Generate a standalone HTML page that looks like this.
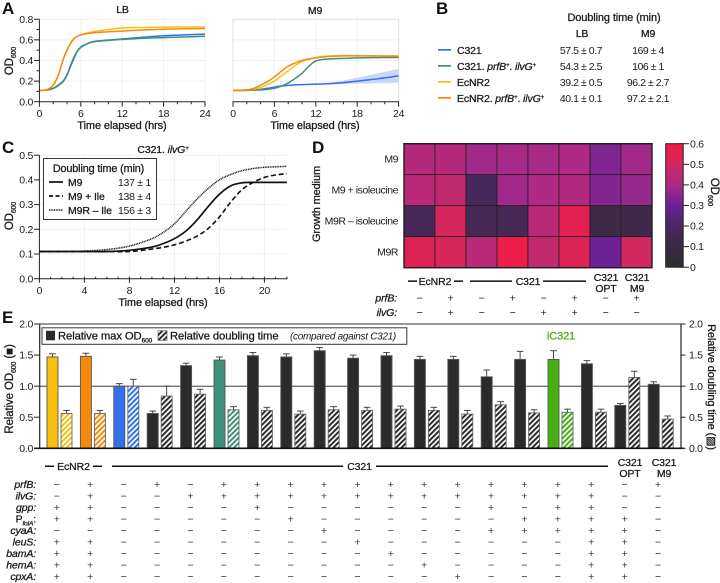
<!DOCTYPE html>
<html lang="en">
<head>
<meta charset="utf-8">
<title>C321 growth characterization figure</title>
<style>
html,body{margin:0;padding:0;background:#fff;}
svg{display:block;font-family:"Liberation Sans",sans-serif;fill:#1a1a1a;}
text{font-size:10.5px;letter-spacing:-.3px;}
.h{font-size:17px;font-weight:700;fill:#111;}
.b{font-weight:400;letter-spacing:-.12px;stroke:#1a1a1a;stroke-width:.28px;}
.i{font-style:italic;}
</style>
</head>
<body>
<svg id="fig" xmlns="http://www.w3.org/2000/svg" width="720" height="583" viewBox="0 0 720 583">
<defs>
<pattern id="hk" patternUnits="userSpaceOnUse" width="3.7" height="3.7" patternTransform="rotate(45)"><rect width="3.7" height="3.7" fill="#fff"/><rect width="2" height="3.7" fill="#2b2b2b"/></pattern>
<pattern id="hy" patternUnits="userSpaceOnUse" width="3.7" height="3.7" patternTransform="rotate(45)"><rect width="3.7" height="3.7" fill="#fff"/><rect width="2" height="3.7" fill="#fbc00f"/></pattern>
<pattern id="ho" patternUnits="userSpaceOnUse" width="3.7" height="3.7" patternTransform="rotate(45)"><rect width="3.7" height="3.7" fill="#fff"/><rect width="2" height="3.7" fill="#f58a0b"/></pattern>
<pattern id="hb" patternUnits="userSpaceOnUse" width="3.7" height="3.7" patternTransform="rotate(45)"><rect width="3.7" height="3.7" fill="#fff"/><rect width="2" height="3.7" fill="#3070e8"/></pattern>
<pattern id="hg" patternUnits="userSpaceOnUse" width="3.7" height="3.7" patternTransform="rotate(45)"><rect width="3.7" height="3.7" fill="#fff"/><rect width="2" height="3.7" fill="#3c917a"/></pattern>
<pattern id="hl" patternUnits="userSpaceOnUse" width="3.7" height="3.7" patternTransform="rotate(45)"><rect width="3.7" height="3.7" fill="#fff"/><rect width="2" height="3.7" fill="#44b012"/></pattern>
<linearGradient id="cbar" x1="0" y1="1" x2="0" y2="0">
<stop offset="0" stop-color="#2d2d2d"/><stop offset=".167" stop-color="#3a2a42"/><stop offset=".333" stop-color="#4c2660"/><stop offset=".5" stop-color="#6c2295"/><stop offset=".667" stop-color="#aa2a88"/><stop offset=".833" stop-color="#d0285f"/><stop offset="1" stop-color="#f01c48"/>
</linearGradient>
</defs>

<!-- Panel letters -->
<text class="h" x="2" y="14">A</text>
<text class="h" x="436" y="14">B</text>
<text class="h" x="2" y="153">C</text>
<text class="h" x="312" y="153">D</text>
<text class="h" x="2" y="323">E</text>

<!-- Panel A static text -->
<text x="122.5" y="13" text-anchor="middle" class="b">LB</text>
<text x="315" y="14" text-anchor="middle" class="b">M9</text>
<text x="122" y="129" text-anchor="middle" class="b" style="font-size:11px">Time elapsed (hrs)</text>
<text x="315" y="129" text-anchor="middle" class="b" style="font-size:11px">Time elapsed (hrs)</text>
<text transform="translate(13,61) rotate(-90)" text-anchor="middle" class="b" style="font-size:11.5px">OD<tspan dy="3" style="font-size:7px">600</tspan></text>

<!-- Panel B table -->
<g>
<text x="614" y="21" text-anchor="middle" class="b" style="font-size:11px">Doubling time (min)</text>
<text x="582" y="37" text-anchor="middle" class="b">LB</text>
<text x="648" y="37" text-anchor="middle" class="b">M9</text>
<rect x="438" y="49" width="13" height="1.7" fill="#3070e8"/>
<rect x="438" y="65" width="13" height="1.7" fill="#3c917a"/>
<rect x="438" y="81" width="13" height="1.7" fill="#fbc00f"/>
<rect x="438" y="97" width="13" height="1.7" fill="#f58a0b"/>
<text x="457" y="54" class="b">C321</text>
<text x="457" y="70" class="b">C321.<tspan class="i"> prfB</tspan><tspan class="i" dy="-3" style="font-size:6px">+</tspan><tspan dy="3">.</tspan><tspan class="i"> ilvG</tspan><tspan class="i" dy="-3" style="font-size:6px">+</tspan></text>
<text x="457" y="86" class="b">EcNR2</text>
<text x="457" y="102" class="b">EcNR2.<tspan class="i"> prfB</tspan><tspan class="i" dy="-3" style="font-size:6px">+</tspan><tspan dy="3">.</tspan><tspan class="i"> ilvG</tspan><tspan class="i" dy="-3" style="font-size:6px">+</tspan></text>
<g text-anchor="middle" style="letter-spacing:-.45px">
<text x="581" y="54" style="letter-spacing:-.45px">57.5 ± 0.7</text><text x="648" y="54" style="letter-spacing:-.45px">169 ± 4</text>
<text x="581" y="70" style="letter-spacing:-.45px">54.3 ± 2.5</text><text x="648" y="70" style="letter-spacing:-.45px">106 ± 1</text>
<text x="581" y="86" style="letter-spacing:-.45px">39.2 ± 0.5</text><text x="648" y="86" style="letter-spacing:-.45px">96.2 ± 2.7</text>
<text x="581" y="102" style="letter-spacing:-.45px">40.1 ± 0.1</text><text x="648" y="102" style="letter-spacing:-.45px">97.2 ± 2.1</text>
</g>
</g>

<!-- Panel C static text -->
<text x="163" y="153" text-anchor="middle" class="b">C321.<tspan class="i"> ilvG</tspan><tspan class="i" dy="-3" style="font-size:6px">+</tspan></text>
<text x="163" y="306" text-anchor="middle" class="b" style="font-size:11px">Time elapsed (hrs)</text>
<text transform="translate(13,216) rotate(-90)" text-anchor="middle" class="b" style="font-size:11.5px">OD<tspan dy="3" style="font-size:7px">600</tspan></text>
<g id="chartC"></g>
<g>
<rect x="43.5" y="158.5" width="113" height="61" fill="#fff" stroke="#333" stroke-width="1"/>
<text x="98.5" y="172" text-anchor="middle" class="b" style="font-size:10.8px">Doubling time (min)</text>
<line x1="49" x2="63" y1="182" y2="182" stroke="#111" stroke-width="1.7"/>
<line x1="49" x2="63" y1="196" y2="196" stroke="#111" stroke-width="1.7" stroke-dasharray="4,2.5"/>
<line x1="49" x2="63" y1="210" y2="210" stroke="#111" stroke-width="1.5" stroke-dasharray="1,.7"/>
<text x="68" y="186" class="b">M9</text>
<text x="68" y="200" class="b">M9 + Ile</text>
<text x="68" y="214" class="b">M9R – Ile</text>
<text x="118" y="186">137 ± 1</text>
<text x="118" y="200">138 ± 4</text>
<text x="118" y="214">156 ± 3</text>
</g>

<!-- Panel D static text -->
<text transform="translate(320,204) rotate(-90)" text-anchor="middle" class="b" style="font-size:11px">Growth medium</text>
<text transform="translate(711,192) rotate(90)" text-anchor="middle" class="b" style="font-size:11.5px">OD<tspan dy="3" style="font-size:7px">600</tspan></text>
<g id="heatmap"></g>
<rect x="665.7" y="143.7" width="17.5" height="123.5" fill="url(#cbar)" stroke="#222" stroke-width="1"/>
<g text-anchor="middle">
<rect x="408" y="280.4" width="9" height="1.5" fill="#111"/>
<text x="435" y="285.2" class="b">EcNR2</text>
<rect x="454" y="280.4" width="9" height="1.5" fill="#111"/>
<rect x="470" y="280.4" width="42" height="1.5" fill="#111"/>
<text x="528" y="285.2" class="b">C321</text>
<rect x="543" y="280.4" width="43" height="1.5" fill="#111"/>
<text x="606" y="281" class="b">C321</text><text x="606" y="292" class="b">OPT</text>
<text x="637" y="281" class="b">C321</text><text x="637" y="292" class="b">M9</text>
</g>

<!-- Panel E static text -->
<text transform="translate(13,389) rotate(-90)" text-anchor="middle" style="font-size:11.5px" class="b">Relative OD<tspan dy="3" style="font-size:7px">600</tspan><tspan dy="-3"> (■)</tspan></text>
<text transform="translate(708,387) rotate(90)" text-anchor="middle" style="font-size:11px" class="b">Relative doubling time (▨)</text>
<g id="chartE"></g>
<g>
<rect x="42" y="327.8" width="364.8" height="16.5" fill="#fff" stroke="#333" stroke-width="1"/>
<rect x="46" y="330.8" width="9" height="9.5" fill="#2b2b2b"/>
<text x="58" y="339.5" class="b" style="font-size:11.3px">Relative max OD<tspan dy="3" style="font-size:6.5px">600</tspan></text>
<rect x="158" y="330.8" width="9" height="9.5" fill="url(#hk)" stroke="#444" stroke-width=".6"/>
<text x="170" y="339.5" class="b" style="font-size:11.3px">Relative doubling time</text>
<text x="290" y="339.5" class="i" style="font-size:10px">(compared against C321)</text>
</g>
<text x="561" y="339.5" text-anchor="middle" class="b" style="font-size:11px;fill:#44b012;stroke:#44b012">iC321</text>
<g>
<rect x="45" y="465.5" width="9" height="1.5" fill="#111"/>
<text x="73.5" y="470" text-anchor="middle" class="b">EcNR2</text>
<rect x="93" y="465.5" width="9" height="1.5" fill="#111"/>
<rect x="112" y="465.5" width="231" height="1.5" fill="#111"/>
<text x="359.5" y="470" text-anchor="middle" class="b">C321</text>
<rect x="376" y="465.5" width="232" height="1.5" fill="#111"/>
<text x="630" y="466" text-anchor="middle" class="b">C321</text><text x="630" y="477" text-anchor="middle" class="b">OPT</text>
<text x="664" y="466" text-anchor="middle" class="b">C321</text><text x="664" y="477" text-anchor="middle" class="b">M9</text>
</g>
<g id="tableE"></g>
<g id="tableD"></g>

<g id="chartA"></g>

<script>
/* ---------- Panel A data: OD600 ---------- */
const lbHours = [0,1,1.5,2,2.5,3,3.5,4,4.5,5,5.5,6,7,8,10,12,15,18,21,24];
const lbC321 = [.11,.112,.118,.13,.15,.175,.205,.26,.34,.42,.49,.53,.565,.585,.598,.608,.625,.64,.648,.655];
const lbC321Plus = [.11,.112,.118,.128,.145,.17,.2,.26,.35,.43,.49,.525,.565,.583,.595,.604,.615,.622,.628,.635];
const lbEcNR2 = [.11,.115,.13,.16,.22,.31,.42,.5,.565,.61,.635,.65,.668,.682,.7,.715,.72,.723,.725,.725];
const lbEcNR2Plus = [.11,.115,.13,.16,.22,.31,.42,.5,.565,.61,.635,.648,.662,.67,.678,.685,.695,.703,.707,.71];
const m9Hours = [0,2,3,4,5,6,7,8,9,10,11,12,13,14,16,18,21,24];
const m9C321 = [.11,.11,.113,.12,.13,.142,.152,.158,.163,.166,.168,.17,.172,.175,.185,.2,.222,.25];
const m9C321Low = [.11,.11,.113,.12,.13,.142,.152,.158,.163,.166,.168,.17,.17,.168,.172,.175,.178,.185];
const m9C321High = [.11,.11,.113,.12,.13,.142,.152,.158,.163,.166,.168,.172,.176,.185,.205,.235,.275,.32];
const m9C321Plus = [.11,.11,.112,.115,.12,.13,.15,.182,.225,.275,.345,.395,.41,.415,.42,.425,.428,.43];
const m9EcNR2 = [.11,.113,.122,.138,.165,.2,.25,.3,.35,.39,.41,.428,.438,.443,.447,.447,.445,.445];
const m9EcNR2Plus = [.11,.115,.13,.16,.195,.24,.295,.345,.375,.4,.415,.425,.433,.44,.444,.445,.443,.44];
const odTicks = [0,.2,.4,.6,.8];
const hourTicksA = [0,6,12,18,24];

/* ---------- Panel C data ---------- */
const cHours = [0,2,4,6,8,10,11,12,13,14,15,16,17,18,19,20,21,22];
const cM9 = [.11,.11,.11,.11,.115,.128,.142,.162,.192,.237,.292,.342,.376,.388,.39,.39,.39,.39];
const cM9Ile = [.11,.11,.11,.11,.11,.12,.127,.137,.152,.172,.203,.25,.31,.36,.39,.41,.42,.425];
const cM9R = [.11,.11,.112,.118,.132,.162,.187,.222,.272,.322,.365,.4,.422,.437,.446,.451,.453,.455];
const cYTicks = [0,.1,.2,.3,.4,.5];
const cYLabels = ['0.0','0.1','0.2','0.3','0.4','0.5'];
const cXTicks = [0,4,8,12,16,20];

/* ---------- Panel D data ---------- */
const mediaNames = ['M9','M9 + isoleucine','M9R – isoleucine','M9R'];
const heatM9 = [.43,.43,.385,.395,.395,.41,.33,.385];
const heatIle = [.44,.46,.18,.385,.41,.42,.34,.37];
const heatIleMinus = [.17,.51,.16,.16,.44,.56,.12,.13];
const heatM9R = [.54,.52,.44,.59,.46,.54,.30,.50];
const colorTicks = [0,.1,.2,.3,.4,.5,.6];
const prfBD = ['−','+','−','+','−','+','−','+'];
const ilvGD = ['−','+','−','−','+','+','−','−'];

/* ---------- Panel E data ---------- */
const maxOD = [1.47,1.48,1.00,.56,1.33,1.42,1.49,1.47,1.57,1.45,1.49,1.43,1.43,1.15,1.43,1.43,1.36,.69,1.03];
const maxODErr = [.05,.05,.04,.04,.04,.05,.05,.05,.05,.05,.05,.05,.05,.11,.13,.14,.05,.03,.04];
const doubling = [.56,.56,1.00,.84,.87,.62,.61,.55,.62,.61,.63,.61,.55,.70,.57,.58,.58,1.14,.47];
const doublingErr = [.05,.05,.11,.16,.08,.05,.05,.05,.05,.05,.05,.05,.06,.05,.05,.05,.05,.10,.05];
const barKinds = ['y','o','b','k','k','g','k','k','k','k','k','k','k','k','k','l','k','k','k'];
const eTicks = [0,.5,1,1.5,2];
const eLabels = ['0.0','0.5','1.0','1.5','2.0'];
const geneRows = ['prfB','ilvG','gpp','PfolA','cyaA','leuS','bamA','hemA','cpxA'];
const prfBE = '-+-+-++++++++++++-+';
const ilvGE = '-+--+++++++++++++--';
const gppE  = '++----+------+-++--';
const pfolE = '++-----+------++++-';
const cyaAE = '--------+----+++++-';
const leuSE = '++-------+------++-';
const bamAE = '++--------+-----++-';
const hemAE = '++---------+----++-';
const cpxAE = '++----------+---++-';
const geneMarks = [prfBE,ilvGE,gppE,pfolE,cyaAE,leuSE,bamAE,hemAE,cpxAE];

/* ---------- helpers ---------- */
const NS = 'http://www.w3.org/2000/svg';
function mk(parent, tag, attrs, name, txt) {
  const el = document.createElementNS(NS, tag);
  for (const k in attrs) el.setAttribute(k, attrs[k]);
  
  
  if (txt !== undefined) el.textContent = txt;
  parent.appendChild(el);
  return el;
}
function smooth(xs, ys) {
  let d = 'M' + xs[0].toFixed(2) + ' ' + ys[0].toFixed(2);
  for (let i = 0; i < xs.length - 1; i++) {
    const p0 = Math.max(i - 1, 0), p3 = Math.min(i + 2, xs.length - 1);
    const h = xs[i + 1] - xs[i];
    const m1 = (ys[i + 1] - ys[p0]) / (xs[i + 1] - xs[p0]);
    const m2 = (ys[p3] - ys[i]) / (xs[p3] - xs[i]);
    d += 'C' + (xs[i] + h / 3).toFixed(2) + ' ' + (ys[i] + m1 * h / 3).toFixed(2) + ' ' +
      (xs[i + 1] - h / 3).toFixed(2) + ' ' + (ys[i + 1] - m2 * h / 3).toFixed(2) + ' ' +
      xs[i + 1].toFixed(2) + ' ' + ys[i + 1].toFixed(2);
  }
  return d;
}
function line(g, x1, y1, x2, y2, stroke, w, name) {
  return mk(g, 'line', {x1: x1, y1: y1, x2: x2, y2: y2, stroke: stroke, 'stroke-width': w}, name);
}

/* ---------- Panel A ---------- */
const chartA = document.getElementById('chartA');
const yA = v => 101.7 - v * 103.1;
function growthPanel(x0, series, hours, band, prefix, showY) {
  const xA = t => x0 + t * 6.9;
  const g = mk(chartA, 'g', {}, prefix + '-plot');
  odTicks.forEach(v => { if (v > 0) line(g, x0, yA(v), x0 + 165.6, yA(v), '#efefef', 1, prefix + '-gridline-y'); });
  hourTicksA.forEach(t => { if (t > 0) line(g, xA(t), yA(0), xA(t), yA(.8), '#efefef', 1, prefix + '-gridline-x'); });
  if (!showY) {
    line(g, x0, yA(.8), x0 + 165.6, yA(.8), '#e2e2e2', 1, prefix + '-top-border');
    line(g, x0, yA(0), x0, yA(.8), '#e2e2e2', 1, prefix + '-left-border');
    line(g, x0 + 165.6, yA(0), x0 + 165.6, yA(.8), '#e2e2e2', 1, prefix + '-right-border');
  }
  if (band) {
    const xs = hours.map(xA);
    let d = smooth(xs, band[1].map(yA));
    const rx = xs.slice().reverse();
    const ry = band[0].map(yA).reverse();
    d += 'L' + smooth(rx, ry).slice(1) + 'Z';
    mk(g, 'path', {d: d, fill: '#c9d8f8', stroke: 'none'}, prefix + '-c321-error-band');
  }
  series.forEach(s => {
    mk(g, 'path', {d: smooth(hours.map(xA), s.v.map(yA)), fill: 'none', stroke: s.c, 'stroke-width': 1.5}, s.n);
  });
  line(g, x0 - .5, yA(0), x0 + 166, yA(0), '#222', 1, prefix + '-x-axis');
  for (let t = 0; t <= 24; t += 2) {
    const major = t % 6 === 0;
    line(g, xA(t), yA(0), xA(t), yA(0) + (major ? 5 : 2.5), '#222', 1, prefix + '-x-tick');
    if (major) mk(g, 'text', {x: xA(t), y: 117, 'text-anchor': 'middle'}, prefix + '-x-tick-label', String(t));
  }
  if (showY) {
    line(g, x0, yA(0), x0, yA(.8), '#222', 1, prefix + '-y-axis');
    for (let i = 0; i <= 8; i++) {
      const v = i / 10;
      const major = i % 2 === 0;
      line(g, x0 - (major ? 5.5 : 3), yA(v), x0, yA(v), '#222', 1, prefix + '-y-tick');
    }
    odTicks.forEach(v => mk(g, 'text', {x: 33, y: yA(v) + 3.6, 'text-anchor': 'end'}, prefix + '-y-tick-label', v.toFixed(1)));
  }
}
growthPanel(39.4, [
  {v: lbC321, c: '#3070e8', n: 'lb-line-c321'},
  {v: lbC321Plus, c: '#3c917a', n: 'lb-line-c321-prfb-ilvg'},
  {v: lbEcNR2, c: '#fbc00f', n: 'lb-line-ecnr2'},
  {v: lbEcNR2Plus, c: '#f58a0b', n: 'lb-line-ecnr2-prfb-ilvg'}
], lbHours, null, 'lb', true);
growthPanel(233, [
  {v: m9C321, c: '#3070e8', n: 'm9-line-c321'},
  {v: m9C321Plus, c: '#3c917a', n: 'm9-line-c321-prfb-ilvg'},
  {v: m9EcNR2, c: '#fbc00f', n: 'm9-line-ecnr2'},
  {v: m9EcNR2Plus, c: '#f58a0b', n: 'm9-line-ecnr2-prfb-ilvg'}
], m9Hours, [m9C321Low, m9C321High], 'm9', false);

/* ---------- Panel C ---------- */
const chartC = document.getElementById('chartC');
const xC = t => 39.4 + t * 11.25;
const yC = v => 278.7 - v * 247;
cYTicks.forEach(v => { if (v > 0) line(chartC, 39.4, yC(v), 287, yC(v), '#efefef', 1, 'panel-c-gridline-y'); });
cXTicks.forEach(t => { if (t > 0) line(chartC, xC(t), yC(0), xC(t), yC(.5), '#efefef', 1, 'panel-c-gridline-x'); });
line(chartC, 39.4, yC(0), 39.4, yC(.5), '#222', 1, 'panel-c-y-axis');
line(chartC, 39, yC(0), 287.5, yC(0), '#222', 1, 'panel-c-x-axis');
cYTicks.forEach((v, i) => {
  line(chartC, 34, yC(v), 39.4, yC(v), '#222', 1, 'panel-c-y-tick');
  mk(chartC, 'text', {x: 33, y: yC(v) + 3.6, 'text-anchor': 'end'}, 'panel-c-y-tick-label', cYLabels[i]);
});
for (let t = 0; t <= 22; t++) {
  const major = t % 4 === 0;
  line(chartC, xC(t), yC(0) + (major ? 4 : 0), xC(t), yC(0) - 2, '#222', 1, 'panel-c-x-tick');
}
cXTicks.forEach(t => mk(chartC, 'text', {x: xC(t), y: 294, 'text-anchor': 'middle'}, 'panel-c-x-tick-label', String(t)));
mk(chartC, 'path', {d: smooth(cHours.map(xC), cM9R.map(yC)), fill: 'none', stroke: '#111', 'stroke-width': 1.5, 'stroke-dasharray': '1,.7'}, 'line-m9r-minus-ile');
mk(chartC, 'path', {d: smooth(cHours.map(xC), cM9Ile.map(yC)), fill: 'none', stroke: '#111', 'stroke-width': 1.6, 'stroke-dasharray': '5,2.8'}, 'line-m9-plus-ile');
mk(chartC, 'path', {d: smooth(cHours.map(xC), cM9.map(yC)), fill: 'none', stroke: '#111', 'stroke-width': 1.7}, 'line-m9');

/* ---------- Panel D ---------- */
const heat = document.getElementById('heatmap');
const heatRows = [heatM9, heatIle, heatIleMinus, heatM9R];
const colorStops = [[45,45,45],[58,42,66],[76,38,96],[108,34,149],[170,42,136],[208,40,95],[240,28,72]];
function od2color(v) {
  const p = Math.max(0, Math.min(.5999, v)) / .1;
  const i = Math.floor(p), f = p - i;
  const c = colorStops[i].map((a, k) => Math.round(a + (colorStops[i + 1][k] - a) * f));
  return 'rgb(' + c.join(',') + ')';
}
const xD = c => 404 + c * 31;
const yD = r => 143.7 + r * 31;
heatRows.forEach((row, r) => {
  row.forEach((v, c) => {
    mk(heat, 'rect', {x: xD(c), y: yD(r), width: 31, height: 31, fill: od2color(v), stroke: '#1c1c1c', 'stroke-width': .7}, 'heatmap-cell');
  });
  mk(heat, 'text', {x: 398, y: yD(r) + 19, 'text-anchor': 'end', style: 'letter-spacing:-.45px'}, 'heatmap-row-label', mediaNames[r]);
});
mk(heat, 'rect', {x: 404, y: 143.7, width: 248, height: 124, fill: 'none', stroke: '#1c1c1c', 'stroke-width': 1.4}, 'heatmap-border');
const yBar = v => 267.2 - v * 205.8;
colorTicks.forEach(v => {
  line(heat, 679, yBar(v), 689, yBar(v), '#222', 1, 'colorbar-tick');
  mk(heat, 'text', {x: 690, y: yBar(v) + 3.6}, 'colorbar-tick-label', v === 0 ? '0' : v.toFixed(1));
});
const tableD = document.getElementById('tableD');
const dLabels = ['prfB:', 'ilvG:'];
[prfBD, ilvGD].forEach((row, r) => {
  const y = 301.5 + r * 14.7;
  mk(tableD, 'text', {x: 397, y: y, 'text-anchor': 'end', 'class': 'b i'}, 'panel-d-gene-label', dLabels[r]);
  row.forEach((s, c) => mk(tableD, 'text', {x: xD(c) + 15.5, y: y, 'text-anchor': 'middle'}, 'panel-d-gene-mark', s));
});

/* ---------- Panel E ---------- */
const chartE = document.getElementById('chartE');
const yE = v => 448.3 - v * 62.15;
const xE = i => 47 + i * 33.4;
const fills = {y: '#fbc00f', o: '#f58a0b', b: '#3070e8', k: '#2b2b2b', g: '#3c917a', l: '#44b012'};
const hatch = {y: 'url(#hy)', o: 'url(#ho)', b: 'url(#hb)', k: 'url(#hk)', g: 'url(#hg)', l: 'url(#hl)'};
line(chartE, 39.5, yE(2), 681, yE(2), '#333', 1.1, 'panel-e-top-border');
line(chartE, 39.7, yE(0), 39.7, yE(2), '#222', 1.2, 'panel-e-left-axis');
line(chartE, 681, yE(0), 681, yE(2), '#222', 1.2, 'panel-e-right-axis');
line(chartE, 39.7, yE(1), 681, yE(1), '#222', .9, 'reference-line-one');
function bar(i, off, val, err, fill, edge, name) {
  const x = xE(i) + off;
  const g = mk(chartE, 'g', {}, name + '-group');
  line(g, x + 5.5, yE(val), x + 5.5, yE(val + err), '#333', .9, name + '-error-bar');
  line(g, x + 2.2, yE(val + err), x + 8.8, yE(val + err), '#333', .9, name + '-error-cap');
  mk(g, 'rect', {x: x, y: yE(val), width: 11, height: yE(0) - yE(val), fill: fill, stroke: edge, 'stroke-width': .9}, name);
}
maxOD.forEach((v, i) => bar(i, 0, v, maxODErr[i], fills[barKinds[i]], '#555', 'bar-max-od'));
doubling.forEach((v, i) => bar(i, 14, v, doublingErr[i], hatch[barKinds[i]], '#666', 'bar-doubling-time'));
line(chartE, 34, yE(0), 684, yE(0), '#111', 1.6, 'panel-e-x-axis');
eTicks.forEach((v, i) => {
  line(chartE, 34, yE(v), 39.7, yE(v), '#222', 1, 'panel-e-left-tick');
  mk(chartE, 'text', {x: 33, y: yE(v) + 3.6, 'text-anchor': 'end'}, 'panel-e-left-tick-label', eLabels[i]);
  line(chartE, 681, yE(v), 685.5, yE(v), '#222', 1, 'panel-e-right-tick');
  mk(chartE, 'text', {x: 689, y: yE(v) + 3.6}, 'panel-e-right-tick-label', eLabels[i]);
});
const tableE = document.getElementById('tableE');
const xTable = i => 56.7 + i * 33.4;
const yTable = r => 488 + r * 11.5;
geneRows.forEach((gene, r) => {
  if (gene === 'PfolA') {
    const t = mk(tableE, 'text', {x: 36, y: yTable(r), 'text-anchor': 'end', 'class': 'b'}, 'panel-e-gene-label', 'P');
    mk(t, 'tspan', {dy: 3, 'class': 'i', style: 'font-size:6.5px'}, 'gene-label-subscript', 'folA');
    mk(t, 'tspan', {dy: -3}, 'gene-label-colon', ':');
  } else {
    mk(tableE, 'text', {x: 36, y: yTable(r), 'text-anchor': 'end', 'class': 'b i'}, 'panel-e-gene-label', gene + ':');
  }
  geneMarks[r].split('').forEach((s, i) => {
    mk(tableE, 'text', {x: xTable(i), y: yTable(r), 'text-anchor': 'middle', fill: '#333'}, 'panel-e-gene-mark', s === '+' ? '+' : '−');
  });
});
</script>
</svg>
</body>
</html>
